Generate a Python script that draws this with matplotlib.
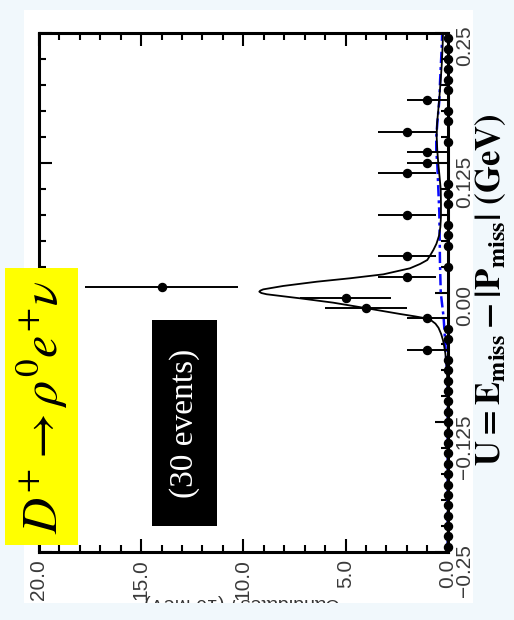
import numpy as np
import matplotlib
matplotlib.use("Agg")
import matplotlib.pyplot as plt
from matplotlib.patches import Rectangle
from matplotlib.ticker import FixedLocator, FixedFormatter, MultipleLocator

plt.rcParams["mathtext.fontset"] = "stix"

# ---- data -------------------------------------------------------------
# U = E_miss - |P_miss| histogram, 50 bins of 10 MeV from -0.25 to 0.25 GeV
u_low, u_high, n_bins = -0.25, 0.25, 50
counts = [0, 0, 0, 0, 0, 0, 0, 0, 0, 0,
          0, 0, 0, 0, 0, 0, 0, 0, 0, 1,
          0, 0, 1, 4, 5, 14, 2, 0, 2, 0,
          0, 0, 2, 0, 0, 0, 2, 1, 1, 0,
          2, 0, 0, 1, 0, 0, 0, 0, 0, 0]

# total fit (signal + background)
fit_u = [-0.25, -0.10, -0.085, -0.075, -0.065, -0.058, -0.052, -0.046, -0.040,
         -0.034, -0.030, -0.027, -0.025, -0.023, -0.0207, -0.0152, -0.0098,
         -0.0056, -0.0017, -0.0005, 0.0008, 0.0018, 0.003, 0.0063, 0.0104,
         0.0137, 0.0175, 0.0233, 0.0275, 0.0313, 0.036, 0.041, 0.047, 0.055,
         0.063, 0.073, 0.086, 0.099, 0.112, 0.124, 0.137, 0.150, 0.163, 0.176,
         0.190, 0.205, 0.220, 0.237, 0.25]
fit_n = [0.0, 0.0, 0.02, 0.04, 0.08, 0.12, 0.17, 0.23, 0.32,
         0.45, 0.60, 0.80, 1.03, 1.60, 2.33, 3.96, 5.60,
         7.23, 8.86, 9.12, 9.22, 9.17, 9.03, 8.05, 6.41,
         4.78, 3.15, 1.85, 1.35, 1.00, 0.85, 0.70, 0.55, 0.42,
         0.36, 0.33, 0.33, 0.34, 0.40, 0.46, 0.51, 0.54, 0.52, 0.46,
         0.40, 0.34, 0.29, 0.25, 0.23]

# background component
bkg_u = [-0.25, -0.09, -0.07, -0.046, -0.024, 0.0, 0.03, 0.05, 0.077, 0.10,
         0.124, 0.137, 0.15, 0.165, 0.185, 0.205, 0.237, 0.25]
bkg_n = [0.0, 0.0, 0.05, 0.13, 0.20, 0.34, 0.38, 0.39, 0.41, 0.46,
         0.51, 0.56, 0.56, 0.50, 0.41, 0.37, 0.29, 0.27]

count_ticks = [20.0, 15.0, 10.0, 5.0, 0.0]
count_labels = ["20.0", "15.0", "10.0", "5.0", "0.0"]
u_ticks = [-0.25, -0.125, 0.0, 0.125, 0.25]
u_labels = ["\u22120.25", "\u22120.125", "0.00", "0.125", "0.25"]

decay_label = r"$D^{+}\rightarrow\rho^{0}e^{+}\nu$"
yield_label = "(30 events)"
u_axis_label = r"$\mathbf{U = E_{miss} - |P_{miss}|\ (GeV)}$"
count_axis_label = "Candidates / (10 MeV)"

# ---- figure -------------------------------------------------------------
W, H = 514, 620
fig = plt.figure(figsize=(W / 100, H / 100), dpi=100, facecolor="#f1f8fc")


def fbox(x0, y0, x1, y1):
    """pixel box (from top-left) -> figure fraction (x, y, w, h)"""
    return x0 / W, 1 - y1 / H, (x1 - x0) / W, (y1 - y0) / H


x, y, w, h = fbox(24, 10, 473, 603)
fig.patches.append(Rectangle((x, y), w, h, transform=fig.transFigure,
                             facecolor="white", edgecolor="none", zorder=-2))

ax = fig.add_axes(fbox(39, 33, 447.7, 552))
ax.set_facecolor("white")

centers = np.linspace(u_low, u_high, n_bins + 1)[:-1] + (u_high - u_low) / n_bins / 2
counts = np.array(counts, dtype=float)
nz = counts > 0

ax.plot(bkg_n, bkg_u, color="#0a0aff", lw=1.8, dashes=(4.5, 1.6, 1.2, 1.6), zorder=2)
ax.plot(fit_n, fit_u, color="black", lw=1.3, zorder=2.2)
ax.errorbar(counts[nz], centers[nz], xerr=np.sqrt(counts[nz]), fmt="o",
            color="black", ms=5.8, elinewidth=1.4, capsize=0, zorder=3)
ax.plot(counts[~nz], centers[~nz], "o", color="black", ms=5.8,
        clip_on=False, zorder=3.5)

ax.set_xlim(20, 0)
ax.set_ylim(u_low, u_high)
ax.xaxis.set_major_locator(FixedLocator(count_ticks))
ax.xaxis.set_major_formatter(FixedFormatter(count_labels))
ax.xaxis.set_minor_locator(MultipleLocator(1))
ax.yaxis.set_major_locator(FixedLocator(u_ticks))
ax.yaxis.set_major_formatter(FixedFormatter(u_labels))
ax.yaxis.set_minor_locator(MultipleLocator(0.025))

ax.tick_params(which="both", direction="in", top=True, bottom=True,
               left=True, right=True, labelleft=False, labelright=True,
               labelbottom=True, width=1.5, color="black")
ax.tick_params(which="major", length=9.5)
ax.tick_params(which="minor", length=5)
ax.tick_params(axis="both", which="major", labelrotation=90, pad=5,
               labelsize=15, labelcolor="#3a3a3a")
for lab in ax.get_xticklabels() + ax.get_yticklabels():
    lab.set_fontfamily("Liberation Sans")
for sp in ax.spines.values():
    sp.set_linewidth(2.2)

# axis titles
fig.text(491 / W, 1 - 290 / H, u_axis_label, rotation=90, fontsize=25,
         ha="center", va="center")
fig.text(242 / W, 1 - 594 / H, count_axis_label, rotation=180, fontsize=14,
         family="Liberation Sans", color="#333333", ha="center", va="top",
         zorder=3)
x, y, w, h = fbox(0, 603, W, H)
fig.patches.append(Rectangle((x, y), w, h, transform=fig.transFigure,
                             facecolor="#f1f8fc", edgecolor="none", zorder=4))

# decay mode box
x, y, w, h = fbox(5, 268, 78, 545)
fig.patches.append(Rectangle((x, y), w, h, transform=fig.transFigure,
                             facecolor="#ffff00", edgecolor="none", zorder=5))
fig.text(42 / W, 1 - 407 / H, decay_label, rotation=90, fontsize=36,
         ha="center", va="center", zorder=6)

# signal yield box
x, y, w, h = fbox(152, 320, 217, 526)
fig.patches.append(Rectangle((x, y), w, h, transform=fig.transFigure,
                             facecolor="black", edgecolor="none", zorder=5))
fig.text(185 / W, 1 - 423 / H, yield_label, rotation=90, fontsize=24,
         family="Liberation Serif", color="white", ha="center", va="center",
         zorder=6)

fig.savefig("out.png", dpi=100, facecolor=fig.get_facecolor())
